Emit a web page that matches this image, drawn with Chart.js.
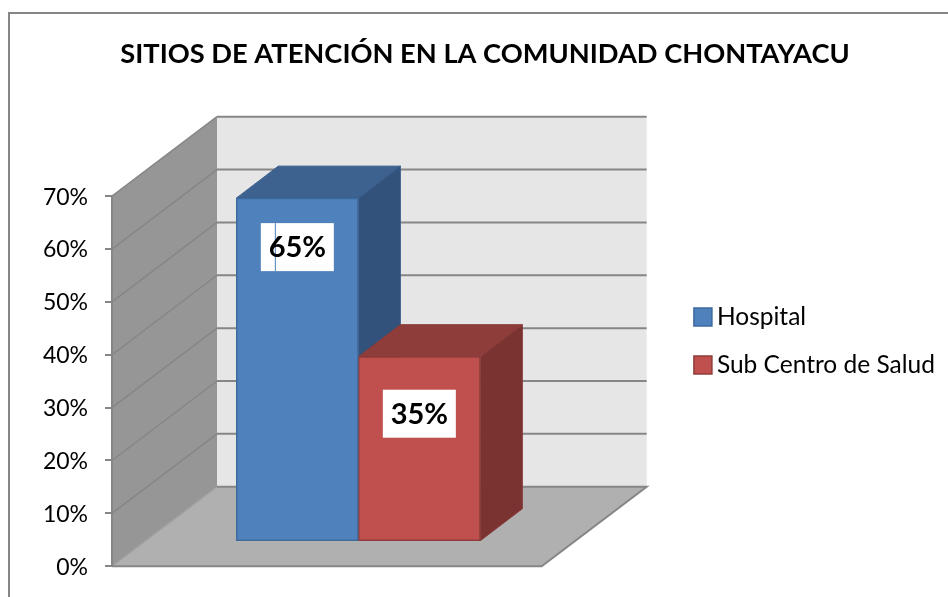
<!DOCTYPE html>
<html>
<head>
<meta charset="utf-8">
<title>Sitios de atención</title>
<style>
  html, body { margin: 0; padding: 0; background: #fff; overflow: hidden; }
  canvas { display: block; }
</style>
<script src="https://cdn.jsdelivr.net/npm/chart.js@4"></script>
</head>
<body>
<canvas id="myChart" width="948" height="597"></canvas>
<script>
// Datos
var categories = [''];
var seriesNames = ['Hospital', 'Sub Centro de Salud'];
var hospital = [65];
var subCentro = [35];
var tickLabels = ['0%', '10%', '20%', '30%', '40%', '50%', '60%', '70%'];

var chartTitle = 'SITIOS DE ATENCIÓN EN LA COMUNIDAD CHONTAYACU';

// Profundidad del falso 3D
var wallDepth = { x: 105, y: 79.5 };
var barDepth = { x: 42, y: 32 };
var barShift = { x: 31.5, y: 24.5 };
var labelDrop = [49, 57];
var faces = [
  { top: '#3e628f', side: '#32527c', edge: '#375c8c' },
  { top: '#8f3d3a', side: '#7a3331', edge: '#873a38' }
];
var lineGrey = '#868686';

function poly(ctx, points, fill, stroke) {
  ctx.beginPath();
  points.forEach(function (p, i) {
    if (i === 0) ctx.moveTo(p[0], p[1]);
    else ctx.lineTo(p[0], p[1]);
  });
  ctx.closePath();
  ctx.fillStyle = fill;
  ctx.fill();
  if (stroke) {
    ctx.strokeStyle = stroke;
    ctx.lineWidth = 1;
    ctx.stroke();
  }
}

// Marco, paredes y piso
var walls = {
  id: 'walls',
  beforeDraw: function (chart) {
    var ctx = chart.ctx;
    var a = chart.chartArea;
    var y = chart.scales.y;
    var dx = wallDepth.x, dy = wallDepth.y;
    ctx.save();
    ctx.fillStyle = '#fff';
    ctx.fillRect(0, 0, chart.width, chart.height);

    ctx.strokeStyle = lineGrey;
    ctx.lineWidth = 2;
    ctx.beginPath();
    ctx.moveTo(9, chart.height);
    ctx.lineTo(9, 13);
    ctx.lineTo(chart.width, 13);
    ctx.stroke();

    poly(ctx, [[a.left + dx, a.top - dy], [a.right + dx, a.top - dy], [a.right + dx, a.bottom - dy], [a.left + dx, a.bottom - dy]], '#e6e6e6');
    poly(ctx, [[a.left, a.top], [a.left + dx, a.top - dy], [a.left + dx, a.bottom - dy], [a.left, a.bottom]], '#969696');
    poly(ctx, [[a.left, a.bottom], [a.left + dx, a.bottom - dy], [a.right + dx, a.bottom - dy], [a.right, a.bottom]], '#b0b0b0');

    tickLabels.forEach(function (t, i) {
      var py = y.getPixelForValue(i * 10);
      if (i > 0) {
        ctx.strokeStyle = lineGrey;
        ctx.lineWidth = 2;
        ctx.beginPath();
        ctx.moveTo(a.left + dx, py - dy);
        ctx.lineTo(a.right + dx, py - dy);
        ctx.stroke();
      }
      ctx.strokeStyle = i === 0 ? '#a0a0a0' : '#868686';
      ctx.lineWidth = 1.5;
      ctx.beginPath();
      ctx.moveTo(a.left, py);
      ctx.lineTo(a.left + dx, py - dy);
      ctx.stroke();
    });

    ctx.strokeStyle = lineGrey;
    ctx.lineWidth = 2;
    ctx.beginPath();
    ctx.moveTo(a.left + dx, a.bottom - dy);
    ctx.lineTo(a.right + dx, a.bottom - dy);
    ctx.lineTo(a.right, a.bottom);
    ctx.lineTo(a.left, a.bottom);
    ctx.stroke();
    ctx.restore();
  }
};

// Caras superior y lateral de cada barra, y desplazamiento hacia el fondo
var bars3d = {
  id: 'bars3d',
  beforeDatasetsDraw: function (chart) {
    var ctx = chart.ctx;
    var dx = barDepth.x, dy = barDepth.y;
    ctx.save();
    ctx.translate(barShift.x, -barShift.y);
    chart.data.datasets.forEach(function (ds, i) {
      var bar = chart.getDatasetMeta(i).data[0];
      var l = bar.x - bar.width / 2, r = bar.x + bar.width / 2;
      poly(ctx, [[r, bar.y], [r + dx, bar.y - dy], [r + dx, bar.base - dy], [r, bar.base]], faces[i].side, faces[i].edge);
      poly(ctx, [[l, bar.y], [l + dx, bar.y - dy], [r + dx, bar.y - dy], [r, bar.y]], faces[i].top, faces[i].edge);
    });
  },
  afterDatasetsDraw: function (chart) {
    var ctx = chart.ctx;
    chart.data.datasets.forEach(function (ds, i) {
      var bar = chart.getDatasetMeta(i).data[0];
      var cy = bar.y + labelDrop[i];
      ctx.fillStyle = '#fff';
      ctx.fillRect(bar.x - 36.5, cy - 24, 73, 48);
      if (i === 0) {
        ctx.fillStyle = '#4f81bd';
        ctx.fillRect(bar.x - 22.5, cy - 24, 1, 48);
      }
      ctx.fillStyle = '#000';
      ctx.font = 'bold 29px Lato';
      ctx.textAlign = 'center';
      ctx.textBaseline = 'middle';
      ctx.fillText(ds.data[0] + '%', bar.x, cy + 1);
    });
    ctx.restore();
  }
};

// La leyenda se mueve a su sitio del original
var moveLegend = {
  id: 'moveLegend',
  afterLayout: function (chart) {
    var l = chart.legend;
    l.top += 57;
    l.bottom += 57;
    l.left -= 116;
    l.right = chart.width;
  }
};

var ctx = document.getElementById('myChart');
var myChart = new Chart(ctx, {
  type: 'bar',
  data: {
    labels: categories,
    datasets: [
      {
        label: seriesNames[0],
        data: hospital,
        backgroundColor: '#4f81bd',
        borderColor: '#3e6a9f',
        borderWidth: 1.5,
        borderSkipped: false,
        barThickness: 122,
        clip: false
      },
      {
        label: seriesNames[1],
        data: subCentro,
        backgroundColor: '#c0504d',
        borderColor: '#8f3d3a',
        borderWidth: 1.5,
        borderSkipped: false,
        barThickness: 122,
        clip: false
      }
    ]
  },
  plugins: [walls, bars3d, moveLegend],
  options: {
    responsive: false,
    animation: false,
    layout: { padding: { left: 22, right: 0, top: 0, bottom: 29 } },
    plugins: {
      title: {
        display: true,
        text: chartTitle,
        color: '#000',
        font: { family: 'Lato', size: 27.25, weight: 'bold' },
        padding: { top: 38, bottom: 125.5 }
      },
      legend: {
        position: 'right',
        labels: {
          color: '#000',
          font: { family: 'Lato', size: 24.5 },
          usePointStyle: true,
          pointStyle: 'rect',
          boxWidth: 3.5,
          boxHeight: 18,
          padding: 23.5
        }
      },
      tooltip: { enabled: false }
    },
    scales: {
      x: { display: false, grid: { display: false } },
      y: {
        min: 0,
        max: 70,
        afterFit: function (s) { s.width = 90; },
        ticks: {
          stepSize: 10,
          padding: 17,
          labelOffset: 1,
          color: '#000',
          font: { family: 'Lato', size: 23 },
          callback: function (v, i) { return tickLabels[i]; }
        },
        grid: { drawOnChartArea: false, tickLength: 7, color: lineGrey, lineWidth: 2 },
        border: { color: lineGrey, width: 2 }
      },
      // hueco entre el piso y la leyenda
      gutter: {
        axis: 'y',
        position: 'right',
        afterFit: function (s) { s.width = 252; },
        ticks: { display: false },
        grid: { display: false },
        border: { display: false }
      }
    }
  }
});
</script>
</body>
</html>
